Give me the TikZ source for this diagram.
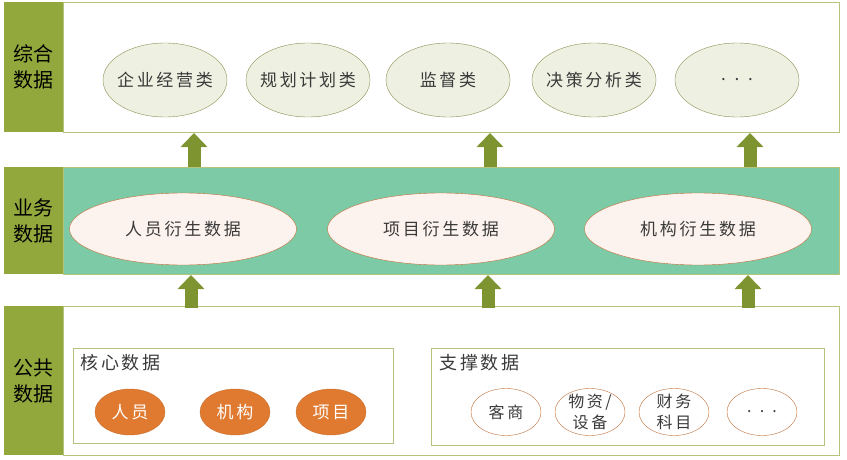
\documentclass[tikz,border=0pt]{standalone}
\usepackage{fontspec}
\setmainfont{Noto Sans CJK SC}
\newfontfamily\spaced{Noto Sans CJK SC}[LetterSpace=16]
\usepackage{tikz}
\usetikzlibrary{arrows.meta,shapes,positioning}
\definecolor{labgreen}{HTML}{93A83C}
\definecolor{arrgreen}{HTML}{7D9430}
\definecolor{framegreen}{HTML}{B4C47C}
\definecolor{teal}{HTML}{7DCBA6}
\definecolor{topfill}{HTML}{EEF1E2}
\definecolor{topline}{HTML}{8E8C50}
\definecolor{pinkfill}{HTML}{FDF3EE}
\definecolor{brownline}{HTML}{C0703A}
\definecolor{orangefill}{HTML}{E07A30}
\definecolor{txtgray}{HTML}{3A3A3A}

\begin{document}
\begin{tikzpicture}[x=1pt,y=1pt]
		\tikzset{
			lab/.style={rectangle, fill=labgreen, inner sep=0pt, minimum width=59pt, anchor=north west,
				align=center, font=\fontsize{20}{26}\selectfont},
			band/.style={rectangle, draw=framegreen, line width=1pt, inner sep=0pt, minimum width=776pt, anchor=north west},
			inbox/.style={rectangle, draw=framegreen, line width=1pt, inner sep=0pt, anchor=north west},
			topell/.style={ellipse, draw=topline, fill=topfill, minimum width=124pt, minimum height=74pt, inner xsep=-12pt, inner ysep=0pt,
				text=txtgray, font=\fontsize{17}{20}\spaced},
			midell/.style={ellipse, draw=brownline, fill=pinkfill, minimum width=227pt, minimum height=72pt, inner sep=0pt,
				text=txtgray, font=\fontsize{17}{20}\spaced},
			coreell/.style={ellipse, draw=orangefill!90!black, fill=orangefill, minimum width=70pt, minimum height=46pt, inner sep=0pt,
				text=white, font=\fontsize{17}{20}\spaced},
			supell/.style={ellipse, draw=brownline, fill=white, minimum width=70pt, minimum height=47pt, inner sep=-12pt,
				text=txtgray, align=center, font=\fontsize{16}{21}\spaced},
			boxtitle/.style={anchor=west, inner sep=0pt, text=txtgray, font=\fontsize{18}{20}\spaced},
			bigarrow/.style={arrgreen, line width=13pt, -{Triangle[width=26pt,length=14pt]}}
		}
		\useasboundingbox (0,0) rectangle (847,-460);
		\node[band, fill=white, minimum height=130pt] (zhband) at (63,-2) {};
		\node[lab, minimum height=130pt] (zhlab) at (4,-2) {综合\\数据};
		\node[topell] (zh1) at (165,-80) {企业经营类};
		\node[topell] (zh2) at (308,-80) {规划计划类};
		\node[topell] (zh3) at (448,-80) {监督类};
		\node[topell] (zh4) at (594,-80) {决策分析类};
		\node[topell] (zh5) at (737,-80) {. . .};
		\node[band, fill=teal, minimum height=107pt] (ywband) at (63,-167) {};
		\node[lab, minimum height=107pt] (ywlab) at (4,-167) {业务\\数据};
		\node[midell] (yw1) at (183,-229) {人员衍生数据};
		\node[midell] (yw2) at (441,-229) {项目衍生数据};
		\node[midell] (yw3) at (698,-229) {机构衍生数据};
		\node[band, fill=white, minimum height=149pt] (ggband) at (63,-306) {};
		\node[lab, minimum height=149pt] (gglab) at (4,-306) {公共\\数据};
		\node[inbox, minimum width=320pt, minimum height=95pt] (hxbox) at (73,-348) {};
		\node[boxtitle] (hxtitle) at (80,-363) {核心数据};
		\node[coreell] (hx1) at (130,-412) {人员};
		\node[coreell] (hx2) at (235,-412) {机构};
		\node[coreell] (hx3) at (331,-412) {项目};
		\node[inbox, minimum width=393pt, minimum height=97pt] (zcbox) at (431,-348) {};
		\node[boxtitle] (zctitle) at (439,-363) {支撑数据};
		\node[supell] (zc1) at (506,-412) {客商};
		\node[supell] (zc2) at (590,-412) {物资/\\设备};
		\node[supell] (zc3) at (674,-412) {财务\\科目};
		\node[supell] (zc4) at (762,-412) {. . .};
		\coordinate (u1) at (194,-167);
		\coordinate (u2) at (490,-167);
		\coordinate (u3) at (750,-167);
		\coordinate (d1) at (191,-308);
		\coordinate (d2) at (488,-308);
		\coordinate (d3) at (748,-308);
		\draw[bigarrow] (u1) -- (u1 |- zhband.south);
		\draw[bigarrow] (u2) -- (u2 |- zhband.south);
		\draw[bigarrow] (u3) -- (u3 |- zhband.south);
		\draw[bigarrow] (d1) -- (d1 |- ywband.south);
		\draw[bigarrow] (d2) -- (d2 |- ywband.south);
		\draw[bigarrow] (d3) -- (d3 |- ywband.south);
\end{tikzpicture}
\end{document}
